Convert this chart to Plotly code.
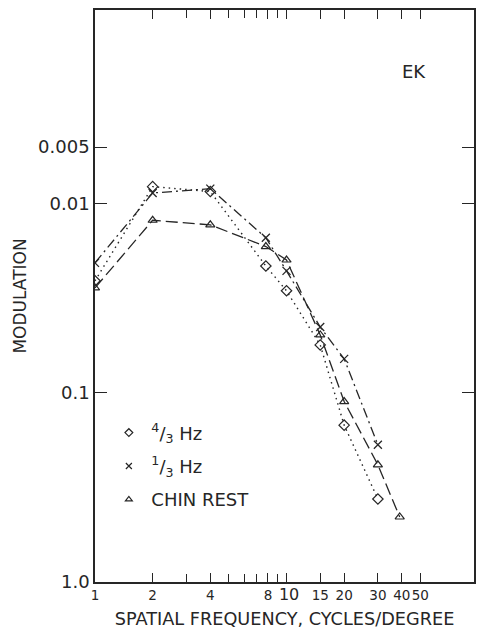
import plotly.graph_objects as go

# Data
freq_hz43 = [1, 2, 4, 7.8, 10, 15, 20, 30]
mod_hz43 = [0.0255, 0.0081, 0.0086, 0.0213, 0.0288, 0.0557, 0.148, 0.364]

freq_hz13 = [1, 2, 4, 7.8, 10, 15, 20, 30]
mod_hz13 = [0.0205, 0.00875, 0.0083, 0.0151, 0.0226, 0.0448, 0.066, 0.188]

freq_chin = [1, 2, 4, 7.8, 10, 15, 20, 30, 39]
mod_chin = [0.0278, 0.0122, 0.0129, 0.0168, 0.0198, 0.0493, 0.111, 0.240, 0.453]

x_tickvals = [1, 2, 4, 8, 10, 15, 20, 30, 40, 50]
x_ticktext = ["1", "2", "4", "8", "<span style='font-size:16px'> 10</span>", "15", "20", "30", "40", "50"]
x_minor = [3, 5, 6, 7, 9]
y_tickvals = [0.005, 0.01, 0.1, 1.0]
y_ticktext = ["0.005", "0.01", "0.1", "1.0"]

series_names = ["<sup>4</sup>/<sub>3</sub> Hz", "<sup>1</sup>/<sub>3</sub> Hz", "CHIN REST"]

INK = "#262626"
FONT = "DejaVu Sans"

fig = go.Figure()

fig.add_trace(go.Scatter(x=freq_hz43, y=mod_hz43, mode="lines+markers",
                         line=dict(color=INK, width=1.4, dash="1.5px,4px"),
                         marker=dict(symbol="diamond-open", size=8, color=INK, line=dict(width=1.2, color=INK)),
                         showlegend=False))
fig.add_trace(go.Scatter(x=freq_hz13, y=mod_hz13, mode="lines+markers",
                         line=dict(color=INK, width=1.3, dash="10px,4px,2px,4px"),
                         marker=dict(symbol="x-thin-open", size=8, color=INK, line=dict(width=1.3, color=INK)),
                         showlegend=False))
fig.add_trace(go.Scatter(x=freq_chin, y=mod_chin, mode="lines+markers",
                         line=dict(color=INK, width=1.3, dash="12px,5px"),
                         marker=dict(symbol="triangle-up-open", size=8, color=INK, line=dict(width=1.2, color=INK)),
                         showlegend=False))

# legend-only marker entries
legend_symbols = ["diamond-open", "x-thin-open", "triangle-up-open"]
for i, (name, sym) in enumerate(zip(series_names, legend_symbols)):
    fig.add_trace(go.Scatter(x=[None], y=[None], mode="markers", name=name,
                             legendgroup=f"g{i}",
                             marker=dict(symbol=sym, size=6, color=INK, line=dict(width=1.2, color=INK))))

xr = [0, 1.979]
fig.update_layout(
    width=478, height=629,
    margin=dict(l=95, r=2, t=10, b=47),
    paper_bgcolor="white", plot_bgcolor="white",
    font=dict(family=FONT, color=INK, size=16),
    xaxis=dict(type="log", range=xr, tickmode="array", tickvals=x_tickvals, ticktext=x_ticktext,
               ticks="inside", ticklen=9, tickwidth=1.3, tickcolor=INK, tickangle=0,
               showline=True, linecolor=INK, linewidth=1.5, mirror="ticks",
               showgrid=False, zeroline=False,
               tickfont=dict(size=13.5, family=FONT, color=INK),
               minor=dict(tickvals=x_minor, ticks="inside", ticklen=8, tickwidth=1.3, tickcolor=INK, showgrid=False),
               title=dict(text="SPATIAL FREQUENCY, CYCLES/DEGREE", standoff=11,
                          font=dict(size=17.7, family=FONT, color=INK))),
    xaxis2=dict(type="log", range=xr, overlaying="x", anchor="y", tickmode="array", tickvals=[10],
                ticks="inside", ticklen=16, tickwidth=1.3, tickcolor=INK, mirror="ticks",
                showticklabels=False, showgrid=False, zeroline=False, showline=False),
    yaxis=dict(type="log", range=[0, -3.026], tickmode="array", tickvals=y_tickvals, ticktext=y_ticktext,
               ticks="inside", ticklen=12, tickwidth=1.3, tickcolor=INK,
               showline=True, linecolor=INK, linewidth=1.5, mirror="ticks",
               showgrid=False, zeroline=False,
               tickfont=dict(size=18, family=FONT, color=INK),
               title=dict(text="MODULATION", standoff=7, font=dict(size=17, family=FONT, color=INK))),
    legend=dict(x=0.03, y=0.293, xanchor="left", yanchor="top", bgcolor="rgba(0,0,0,0)",
                itemwidth=35, tracegroupgap=7, font=dict(size=18, family=FONT, color=INK)),
    annotations=[dict(text="EK", x=0.843, y=0.893, xref="paper", yref="paper", showarrow=False,
                      xanchor="center", yanchor="middle",
                      font=dict(size=18, family=FONT, color=INK))],
)

fig.write_html("out.html", config={"displayModeBar": False},
               post_script="document.body.style.margin='0';document.body.style.overflow='hidden';")
